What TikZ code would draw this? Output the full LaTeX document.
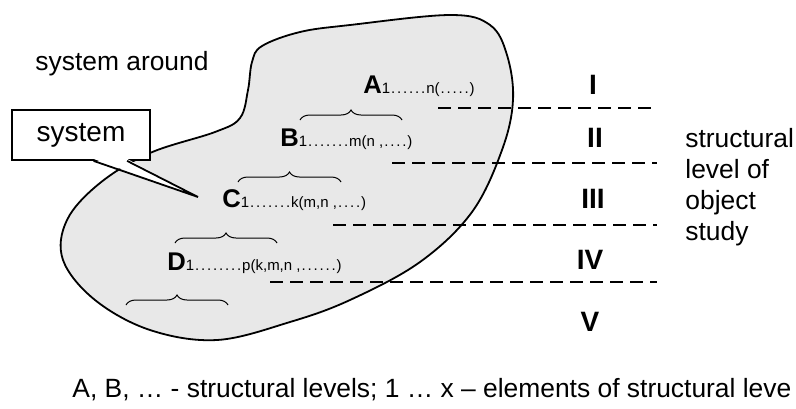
\documentclass[tikz,border=0pt]{standalone}
\usepackage{fontspec}
\setmainfont{Liberation Sans}
\usetikzlibrary{positioning,decorations.pathreplacing,calc}

\definecolor{blobgray}{HTML}{E8E8E8}

\tikzset{
  txt/.style={anchor=base west, inner sep=0pt, font=\fontsize{13.2}{15.5}\selectfont},
  lvl/.style={anchor=base west, inner sep=0pt},
  roman/.style={font=\fontsize{14}{16}\selectfont\bfseries},
  levelline/.style={line width=1pt, dash pattern=on 6.5pt off 3.5pt},
  brc/.style={decorate, decoration={brace, amplitude=5pt}, line width=0.5pt},
  sysbox/.style={draw, fill=white, line width=0.9pt, minimum width=69pt, minimum height=25pt, font=\fontsize{14}{16}\selectfont},
}
\newcommand{\dts}[1]{\foreach \i in {1,...,#1}{\makebox[3pt]{.}}}
\newcommand{\lvltext}[2]{{\fontsize{12.8}{14}\selectfont\bfseries #1}{\fontsize{7.5}{8}\selectfont #2}}

\begin{document}
\begin{tikzpicture}[x=0.5pt,y=-0.5pt]
\useasboundingbox (0,0) rectangle (796,408);

% object of study
\draw[fill=blobgray, line width=0.9pt] plot[smooth cycle, tension=0.6] coordinates {
  (262,46) (300,32) (350,25) (450,15) (490,25) (507,55) (513,100) (502,150)
  (472,212) (420,262) (350,300) (290,322) (217,340) (150,330) (95,300)
  (63,260) (67,220) (100,183) (150,153) (215,132) (240,118) (248,90) (252,62)};

\node[txt] (around) at (35,70) {system around};

% callout
\node[sysbox] (sys) at (81,135) {system};
\coordinate (tip) at (198,197);
\fill[white] ($(sys.south west)!0.59!(sys.south east)+(0,-2)$) -- (tip) -- ($(sys.south west)!0.83!(sys.south east)+(0,-2)$) -- cycle;
\draw[line width=0.9pt] ($(sys.south west)!0.59!(sys.south east)$) -- (tip) -- ($(sys.south west)!0.83!(sys.south east)$);

% levels
\node[lvl] (A) at (363,93) {\lvltext{A}{1\dts{6}n(\dts{5})}};
\node[lvl] (B) at (280,146) {\lvltext{B}{1\dts{7}m(n ,\dts{4})}};
\node[lvl] (C) at (222,207) {\lvltext{C}{1\dts{7}k(m,n ,\dts{4})}};
\node[lvl] (D) at (167,270) {\lvltext{D}{1\dts{8}p(k,m,n ,\dts{6})}};

\draw[brc] (300,120) -- (402,120);
\draw[brc] (238,182) -- (341,182);
\draw[brc] (175,243) -- (277,243);
\draw[brc] (126,305) -- (228,305);

\foreach \xs/\y in {438/108, 392/163, 333/225, 270/282}
  \draw[levelline] (\xs,\y) -- (657,\y);

\node[roman] (l1) at (593,85) {I};
\node[roman] (l2) at (595,138) {II};
\node[roman] (l3) at (593,199) {III};
\node[roman] (l4) at (590,260) {IV};
\node[roman] (l5) at (590,322) {V};

\node[txt, anchor=north west, align=left] (study) at (685,128) {structural\\level of\\object\\study};

\node[txt] (caption) at (72,397) {A, B, … - structural levels; 1 … x – elements of structural leve};

\end{tikzpicture}
\end{document}
